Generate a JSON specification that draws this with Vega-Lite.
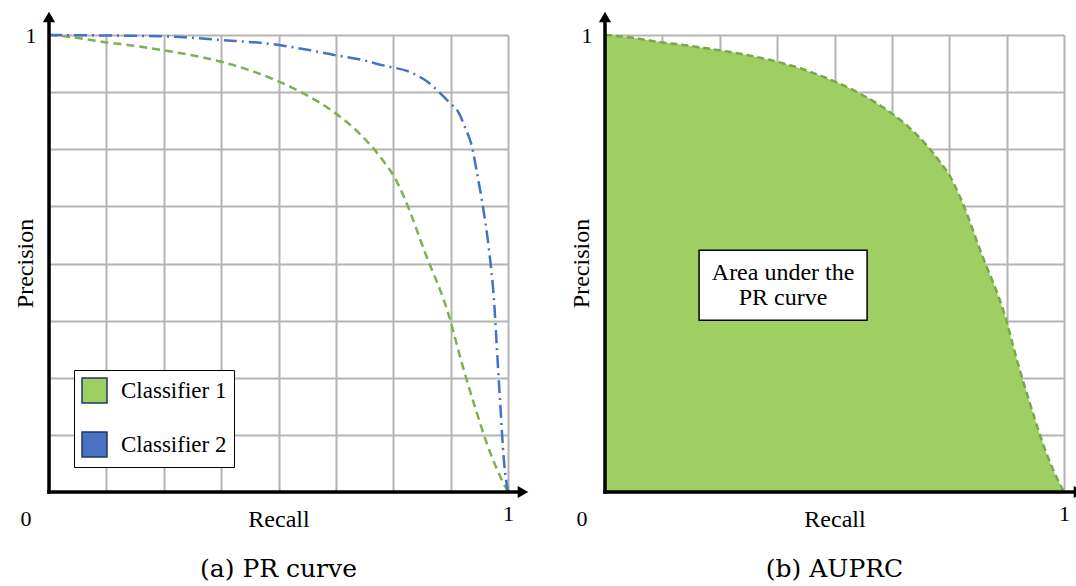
{
  "$schema": "https://vega.github.io/schema/vega-lite/v6.json",
  "background": "white",
  "padding": {"left": 13, "top": 11, "right": 0, "bottom": 0},
  "spacing": 97,
  "bounds": "flush",
  "resolve": {"scale": {"fill": "independent"}, "legend": {"fill": "independent"}},
  "config": {
    "view": {"stroke": null},
    "axis": {
      "gridColor": "#b4b4b4",
      "gridWidth": 2,
      "gridOpacity": 1,
      "domain": false,
      "ticks": false,
      "labelFont": "Liberation Serif",
      "labelFontSize": 22,
      "labelColor": "black",
      "labelFlush": false,
      "labelOverlap": false,
      "titleFont": "Liberation Serif",
      "titleFontSize": 24,
      "titleFontWeight": "normal",
      "titleColor": "black"
    }
  },
  "datasets": {
    "one": [{}],
    "curves": [
      {"classifier": "Classifier 1", "recall": 0.0, "precision": 1.0},
      {"classifier": "Classifier 1", "recall": 0.06, "precision": 0.994},
      {"classifier": "Classifier 1", "recall": 0.1155, "precision": 0.985},
      {"classifier": "Classifier 1", "recall": 0.18, "precision": 0.977},
      {"classifier": "Classifier 1", "recall": 0.2527, "precision": 0.966},
      {"classifier": "Classifier 1", "recall": 0.32, "precision": 0.954},
      {"classifier": "Classifier 1", "recall": 0.377, "precision": 0.941},
      {"classifier": "Classifier 1", "recall": 0.44, "precision": 0.922},
      {"classifier": "Classifier 1", "recall": 0.501, "precision": 0.898},
      {"classifier": "Classifier 1", "recall": 0.551, "precision": 0.874},
      {"classifier": "Classifier 1", "recall": 0.617, "precision": 0.834},
      {"classifier": "Classifier 1", "recall": 0.66, "precision": 0.8},
      {"classifier": "Classifier 1", "recall": 0.697, "precision": 0.763},
      {"classifier": "Classifier 1", "recall": 0.73, "precision": 0.722},
      {"classifier": "Classifier 1", "recall": 0.752, "precision": 0.69},
      {"classifier": "Classifier 1", "recall": 0.775, "precision": 0.642},
      {"classifier": "Classifier 1", "recall": 0.82, "precision": 0.522},
      {"classifier": "Classifier 1", "recall": 0.87, "precision": 0.39},
      {"classifier": "Classifier 1", "recall": 0.9, "precision": 0.28},
      {"classifier": "Classifier 1", "recall": 0.93, "precision": 0.18},
      {"classifier": "Classifier 1", "recall": 0.955, "precision": 0.103},
      {"classifier": "Classifier 1", "recall": 0.978, "precision": 0.045},
      {"classifier": "Classifier 1", "recall": 1.0, "precision": 0.0},
      {"classifier": "Classifier 2", "recall": 0.0, "precision": 1.0},
      {"classifier": "Classifier 2", "recall": 0.1155, "precision": 0.999},
      {"classifier": "Classifier 2", "recall": 0.2527, "precision": 0.997},
      {"classifier": "Classifier 2", "recall": 0.377, "precision": 0.989},
      {"classifier": "Classifier 2", "recall": 0.501, "precision": 0.978},
      {"classifier": "Classifier 2", "recall": 0.5664, "precision": 0.967},
      {"classifier": "Classifier 2", "recall": 0.623, "precision": 0.956},
      {"classifier": "Classifier 2", "recall": 0.68, "precision": 0.946},
      {"classifier": "Classifier 2", "recall": 0.7255, "precision": 0.934},
      {"classifier": "Classifier 2", "recall": 0.791, "precision": 0.917},
      {"classifier": "Classifier 2", "recall": 0.828, "precision": 0.895},
      {"classifier": "Classifier 2", "recall": 0.856, "precision": 0.869},
      {"classifier": "Classifier 2", "recall": 0.8715, "precision": 0.853},
      {"classifier": "Classifier 2", "recall": 0.893, "precision": 0.829},
      {"classifier": "Classifier 2", "recall": 0.906, "precision": 0.799},
      {"classifier": "Classifier 2", "recall": 0.9216, "precision": 0.755},
      {"classifier": "Classifier 2", "recall": 0.9325, "precision": 0.698},
      {"classifier": "Classifier 2", "recall": 0.943, "precision": 0.639},
      {"classifier": "Classifier 2", "recall": 0.9586, "precision": 0.53},
      {"classifier": "Classifier 2", "recall": 0.9695, "precision": 0.42},
      {"classifier": "Classifier 2", "recall": 0.976, "precision": 0.311},
      {"classifier": "Classifier 2", "recall": 0.9826, "precision": 0.201},
      {"classifier": "Classifier 2", "recall": 0.991, "precision": 0.07},
      {"classifier": "Classifier 2", "recall": 1.0, "precision": 0.0}
    ]
  },
  "hconcat": [
    {
      "width": 459,
      "height": 457,
      "layer": [
        {
          "data": {"name": "curves"},
          "transform": [{"filter": "datum.classifier == 'Classifier 1'"}],
          "mark": {"type": "line", "strokeWidth": 2.5, "interpolate": "monotone", "color": "#7fb152", "strokeDash": [8, 5]},
          "encoding": {
            "x": {
              "field": "recall", "type": "quantitative",
              "scale": {"domain": [0, 1], "nice": false},
              "axis": {
                "values": [0, 0.125, 0.25, 0.375, 0.5, 0.625, 0.75, 0.875, 1],
                "grid": true,
                "labelExpr": "datum.value == 1 ? '1' : ''",
                "labelPadding": 11,
                "title": "Recall",
                "titleY": 34,
                "titleBaseline": "alphabetic"
              }
            },
            "y": {
              "field": "precision", "type": "quantitative",
              "scale": {"domain": [0, 1], "nice": false},
              "axis": {
                "values": [0, 0.125, 0.25, 0.375, 0.5, 0.625, 0.75, 0.875, 1],
                "grid": true,
                "labelExpr": "datum.value == 1 ? '1' : ''",
                "labelPadding": 13,
                "labelBaseline": "middle",
                "title": "Precision",
                "titleX": -17,
                "titleY": 228,
                "titleBaseline": "alphabetic"
              }
            }
          }
        },
        {
          "data": {"name": "curves"},
          "transform": [{"filter": "datum.classifier == 'Classifier 2'"}],
          "mark": {"type": "line", "strokeWidth": 2.5, "interpolate": "monotone", "color": "#4472c4", "strokeDash": [13, 5, 2, 5]},
          "encoding": {
            "x": {"field": "recall", "type": "quantitative"},
            "y": {"field": "precision", "type": "quantitative"}
          }
        },
        {
          "data": {"name": "curves"},
          "mark": {"type": "square", "opacity": 0.001},
          "encoding": {
            "x": {"field": "recall", "type": "quantitative"},
            "y": {"field": "precision", "type": "quantitative"},
            "fill": {
              "field": "classifier", "type": "nominal",
              "scale": {"domain": ["Classifier 1", "Classifier 2"], "range": ["#9dcf62", "#4a72c2"]},
              "legend": {
                "title": null,
                "orient": "bottom-left",
                "offset": 25,
                "padding": 7,
                "strokeColor": "black",
                "fillColor": "white",
                "symbolType": "square",
                "symbolSize": 625,
                "symbolOpacity": 1,
                "symbolStrokeColor": "#1f3864",
                "symbolStrokeWidth": 1.5,
                "rowPadding": 23,
                "labelOffset": 13,
                "labelFont": "Liberation Serif",
                "labelFontSize": 23,
                "labelColor": "black"
              }
            }
          }
        },
        {
          "data": {"name": "one"},
          "mark": {"type": "rule", "strokeWidth": 3.5, "color": "black", "strokeCap": "square"},
          "encoding": {
            "x": {"datum": 0}, "x2": {"datum": 1.025},
            "y": {"datum": 0}
          }
        },
        {
          "data": {"name": "one"},
          "mark": {"type": "rule", "strokeWidth": 3.5, "color": "black", "strokeCap": "square"},
          "encoding": {
            "x": {"datum": 0},
            "y": {"datum": 0}, "y2": {"datum": 1.03}
          }
        },
        {
          "data": {"name": "one"},
          "mark": {"type": "point", "shape": "triangle-right", "size": 150, "filled": true, "color": "black", "opacity": 1},
          "encoding": {"x": {"datum": 1.0327}, "y": {"datum": 0}}
        },
        {
          "data": {"name": "one"},
          "mark": {"type": "point", "shape": "triangle-up", "size": 150, "filled": true, "color": "black", "opacity": 1},
          "encoding": {"x": {"datum": 0}, "y": {"datum": 1.0394}}
        },
        {
          "data": {"name": "one"},
          "mark": {"type": "text", "text": "0", "font": "Liberation Serif", "fontSize": 22, "dx": -23, "dy": 27, "align": "center", "baseline": "middle", "color": "black"},
          "encoding": {"x": {"datum": 0}, "y": {"datum": 0}}
        },
        {
          "data": {"name": "one"},
          "mark": {"type": "text", "text": "(a) PR curve", "font": "DejaVu Serif", "fontSize": 25, "dy": 77, "align": "center", "baseline": "middle", "color": "black"},
          "encoding": {"x": {"datum": 0.5}, "y": {"datum": 0}}
        }
      ]
    },
    {
      "width": 459,
      "height": 457,
      "layer": [
        {
          "data": {"name": "curves"},
          "transform": [{"filter": "datum.classifier == 'Classifier 1'"}],
          "mark": {"type": "area", "color": "#9fcf63", "opacity": 1, "interpolate": "monotone"},
          "encoding": {
            "x": {
              "field": "recall", "type": "quantitative",
              "scale": {"domain": [0, 1], "nice": false},
              "axis": {
                "values": [0, 0.125, 0.25, 0.375, 0.5, 0.625, 0.75, 0.875, 1],
                "grid": true,
                "labelExpr": "datum.value == 1 ? '1' : ''",
                "labelPadding": 11,
                "title": "Recall",
                "titleY": 34,
                "titleBaseline": "alphabetic"
              }
            },
            "y": {
              "field": "precision", "type": "quantitative",
              "scale": {"domain": [0, 1], "nice": false},
              "axis": {
                "values": [0, 0.125, 0.25, 0.375, 0.5, 0.625, 0.75, 0.875, 1],
                "grid": true,
                "labelExpr": "datum.value == 1 ? '1' : ''",
                "labelPadding": 13,
                "labelBaseline": "middle",
                "title": "Precision",
                "titleX": -17,
                "titleY": 228,
                "titleBaseline": "alphabetic"
              }
            }
          }
        },
        {
          "data": {"name": "curves"},
          "transform": [{"filter": "datum.classifier == 'Classifier 1'"}],
          "mark": {"type": "line", "color": "#78a84b", "strokeWidth": 2.5, "strokeDash": [7, 4], "interpolate": "monotone"},
          "encoding": {
            "x": {"field": "recall", "type": "quantitative"},
            "y": {"field": "precision", "type": "quantitative"}
          }
        },
        {
          "data": {"name": "one"},
          "mark": {"type": "rect", "fill": "white", "stroke": "black", "strokeWidth": 1.5},
          "encoding": {
            "x": {"datum": 0.205}, "x2": {"datum": 0.571},
            "y": {"datum": 0.529}, "y2": {"datum": 0.376}
          }
        },
        {
          "data": {"name": "one"},
          "mark": {"type": "text", "text": ["Area under the", "PR curve"], "font": "Liberation Serif", "fontSize": 24, "lineHeight": 25, "align": "center", "baseline": "middle", "color": "black"},
          "encoding": {"x": {"datum": 0.388}, "y": {"datum": 0.479}}
        },
        {
          "data": {"name": "one"},
          "mark": {"type": "rule", "strokeWidth": 3.5, "color": "black", "strokeCap": "square"},
          "encoding": {
            "x": {"datum": 0}, "x2": {"datum": 1.025},
            "y": {"datum": 0}
          }
        },
        {
          "data": {"name": "one"},
          "mark": {"type": "rule", "strokeWidth": 3.5, "color": "black", "strokeCap": "square"},
          "encoding": {
            "x": {"datum": 0},
            "y": {"datum": 0}, "y2": {"datum": 1.03}
          }
        },
        {
          "data": {"name": "one"},
          "mark": {"type": "point", "shape": "triangle-right", "size": 150, "filled": true, "color": "black", "opacity": 1},
          "encoding": {"x": {"datum": 1.0327}, "y": {"datum": 0}}
        },
        {
          "data": {"name": "one"},
          "mark": {"type": "point", "shape": "triangle-up", "size": 150, "filled": true, "color": "black", "opacity": 1},
          "encoding": {"x": {"datum": 0}, "y": {"datum": 1.0394}}
        },
        {
          "data": {"name": "one"},
          "mark": {"type": "text", "text": "0", "font": "Liberation Serif", "fontSize": 22, "dx": -23, "dy": 27, "align": "center", "baseline": "middle", "color": "black"},
          "encoding": {"x": {"datum": 0}, "y": {"datum": 0}}
        },
        {
          "data": {"name": "one"},
          "mark": {"type": "text", "text": "(b) AUPRC", "font": "DejaVu Serif", "fontSize": 25, "dy": 77, "align": "center", "baseline": "middle", "color": "black"},
          "encoding": {"x": {"datum": 0.5}, "y": {"datum": 0}}
        }
      ]
    }
  ]
}
